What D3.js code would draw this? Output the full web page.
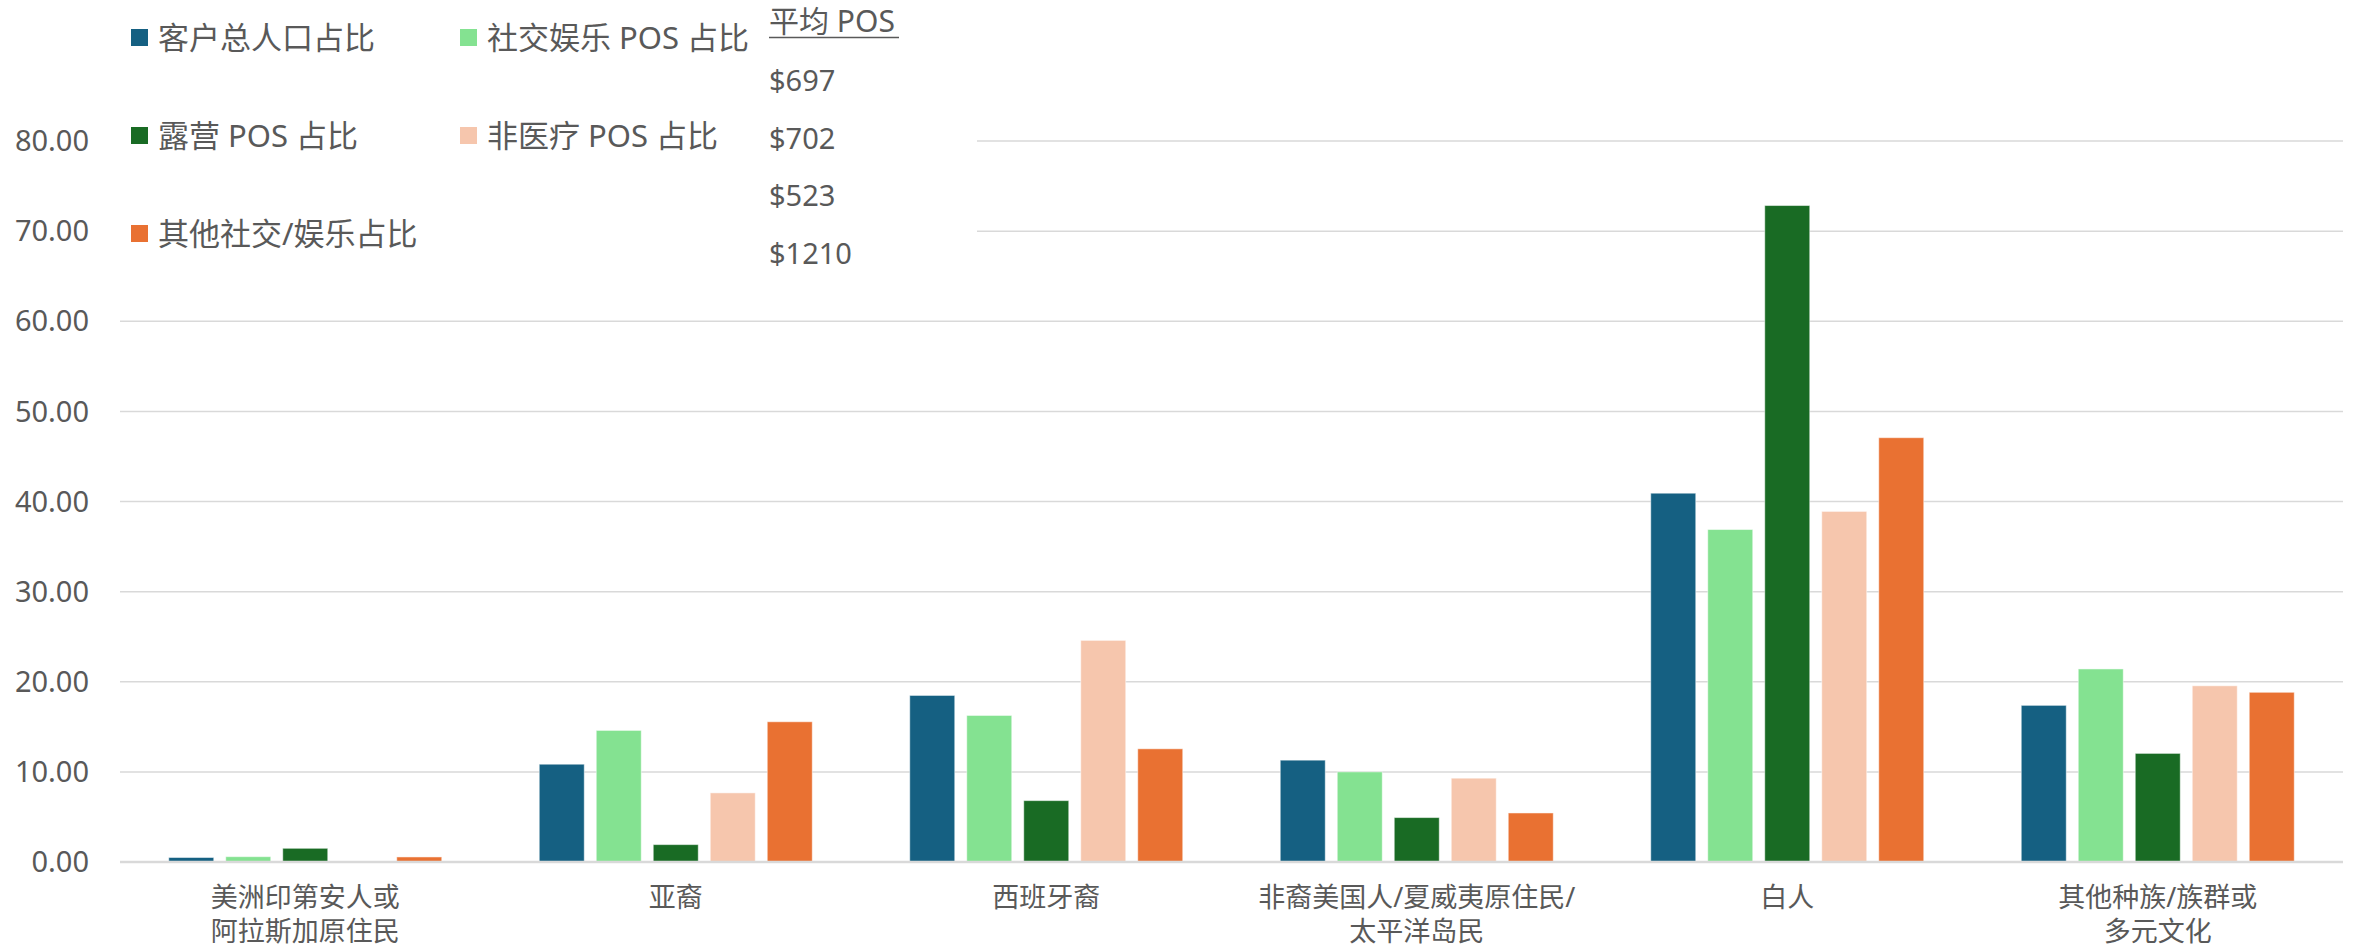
<!DOCTYPE html>
<html>
<head>
<meta charset="utf-8">
<script src="https://cdn.jsdelivr.net/npm/d3@7"></script>
<style>
  body { margin: 0; background: #fff; }
  text { font-family: "Noto Sans", "Noto Sans CJK SC", sans-serif; fill: #595959; }
</style>
</head>
<body>
<svg id="chart"></svg>
<script>
// chart data
const categories = [
  ["美洲印第安人或", "阿拉斯加原住民"],
  ["亚裔"],
  ["西班牙裔"],
  ["非裔美国人/夏威夷原住民/", "太平洋岛民"],
  ["白人"],
  ["其他种族/族群或", "多元文化"]
];
const seriesNames = ["客户总人口占比", "社交娱乐 POS 占比", "露营 POS 占比", "非医疗 POS 占比", "其他社交/娱乐占比"];
const colors = ["#156082", "#84E291", "#196B24", "#F6C6AD", "#E97132"];
const totalPop   = [0.50, 10.85, 18.48, 11.30, 40.92, 17.38];
const socialPos  = [0.59, 14.60, 16.26, 10.00, 36.89, 21.42];
const campPos    = [1.52, 1.93, 6.81, 4.93, 72.84, 12.05];
const nonMedPos  = [0, 7.67, 24.59, 9.30, 38.90, 19.55];
const otherSoc   = [0.56, 15.56, 12.56, 5.44, 47.08, 18.83];
const series = [totalPop, socialPos, campPos, nonMedPos, otherSoc];
const yTicks = [0, 10, 20, 30, 40, 50, 60, 70, 80];
const avgTitle = "平均 POS";
const avgValues = ["$697", "$702", "$523", "$1210"];

const width = 2363, height = 952;
const svg = d3.select("#chart").attr("width", width).attr("height", height);

const plotLeft = 120, plotRight = 2343, plotTop = 141, plotBottom = 862;

const x0 = d3.scaleBand()
    .domain(d3.range(categories.length))
    .range([plotLeft, plotRight])
    .padding(0);

const y = d3.scaleLinear().domain([0, 80]).range([plotBottom, plotTop]);

// gridlines
svg.append("g")
    .selectAll("line")
    .data(yTicks.filter(d => d > 0))
    .enter().append("line")
    .attr("x1", plotLeft).attr("x2", plotRight)
    .attr("y1", d => y(d)).attr("y2", d => y(d))
    .attr("stroke", "#d9d9d9")
    .attr("stroke-width", 1.5);

// y tick labels
svg.append("g")
    .selectAll("text")
    .data(yTicks)
    .enter().append("text")
    .attr("x", 89)
    .attr("y", d => y(d))
    .attr("dy", "0.35em")
    .attr("text-anchor", "end")
    .attr("font-size", "29px")
    .text(d => d.toFixed(2));

// bars: 5 per group, 45px wide on a 57px step
const barStep = 57, barW = 45;
const x1 = d3.scaleBand()
    .domain(d3.range(series.length))
    .range([-barStep * 2.5, barStep * 2.5]);

series.forEach(function(vals, si) {
    svg.append("g")
        .selectAll("rect")
        .data(vals.map((v, i) => ({v: v, i: i})).filter(d => d.v > 0))
        .enter().append("rect")
        .attr("x", d => x0(d.i) + x0.bandwidth() / 2 + x1(si) + (barStep - barW) / 2)
        .attr("y", d => y(d.v))
        .attr("width", barW)
        .attr("height", d => y(0) - y(d.v))
        .attr("fill", colors[si])
        .attr("stroke", "#fff")
        .attr("stroke-opacity", 0.5)
        .attr("stroke-width", 1);
});

// baseline
svg.append("line")
    .attr("x1", plotLeft).attr("x2", plotRight)
    .attr("y1", y(0)).attr("y2", y(0))
    .attr("stroke", "#d9d9d9")
    .attr("stroke-width", 2.5);

// category labels
const catG = svg.append("g");
categories.forEach(function(lines, i) {
    const t = catG.append("text")
        .attr("x", x0(i) + x0.bandwidth() / 2)
        .attr("y", 907)
        .attr("text-anchor", "middle")
        .attr("font-size", "27px");
    lines.forEach(function(l, j) {
        t.append("tspan")
            .attr("x", x0(i) + x0.bandwidth() / 2)
            .attr("dy", j === 0 ? 0 : 34)
            .text(l);
    });
});

// legend box (white, hides the top gridlines)
svg.append("rect")
    .attr("x", 112).attr("y", 0)
    .attr("width", 977 - 112).attr("height", 275)
    .attr("fill", "#fff");

const legendPos = [[131, 38], [460, 38], [131, 136], [460, 136], [131, 234]];
const leg = svg.append("g");
seriesNames.forEach(function(name, i) {
    const p = legendPos[i];
    leg.append("rect")
        .attr("x", p[0]).attr("y", p[1] - 9)
        .attr("width", 17).attr("height", 17)
        .attr("fill", colors[i]);
    leg.append("text")
        .attr("x", p[0] + 27).attr("y", p[1])
        .attr("dy", "0.36em")
        .attr("font-size", "31px")
        .text(name);
});

// average POS column
svg.append("text")
    .attr("x", 769).attr("y", 32)
    .attr("font-size", "30px")
    .text(avgTitle);
svg.append("line")
    .attr("x1", 769).attr("x2", 899)
    .attr("y1", 37.5).attr("y2", 37.5)
    .attr("stroke", "#595959")
    .attr("stroke-width", 1.5);

svg.append("g")
    .selectAll("text")
    .data(avgValues)
    .enter().append("text")
    .attr("x", 769)
    .attr("y", (d, i) => 91 + i * 57.5)
    .attr("font-size", "29px")
    .text(d => d);
</script>
</body>
</html>
